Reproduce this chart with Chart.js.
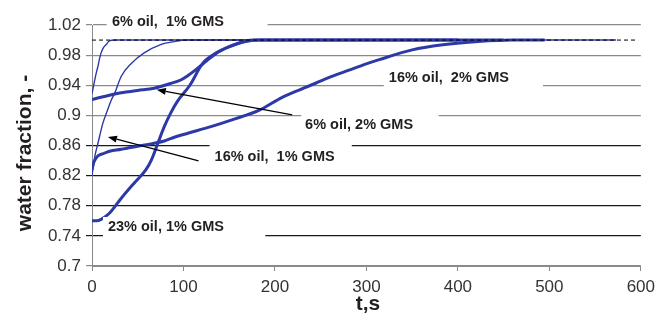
<!DOCTYPE html>
<html>
<head>
<meta charset="utf-8">
<script src="https://cdn.jsdelivr.net/npm/chart.js@4.4.1/dist/chart.umd.min.js"></script>
<style>
  html, body { margin: 0; padding: 0; background: #fff; }
  #wrap { width: 661px; height: 320px; }
</style>
</head>
<body>
<div id="wrap"><canvas id="chart"></canvas></div>
<script>
// Axis ticks
const xTicks = [0, 100, 200, 300, 400, 500, 600];
const yTicks = [0.7, 0.74, 0.78, 0.82, 0.86, 0.9, 0.94, 0.98, 1.02];
const yTickLabels = ['0.7', '0.74', '0.78', '0.82', '0.86', '0.9', '0.94', '0.98', '1.02'];

// 6% oil, 1% GMS (thin)
const oil6Gms1T = [0, 1.5, 3, 5, 6.5, 8, 10, 12.5, 15.5, 19, 25, 60, 200, 400, 573];
const oil6Gms1W = [0.929, 0.938, 0.947, 0.958, 0.965, 0.974, 0.983, 0.990, 0.994, 0.999, 1.0, 1.0, 1.0, 1.0, 1.0];

// 16% oil, 1% GMS (thin)
const oil16Gms1T = [0, 3, 6.5, 12, 17, 21, 25, 32, 43, 57, 75, 90, 104, 200, 350];
const oil16Gms1W = [0.82, 0.845, 0.863, 0.89, 0.907, 0.92, 0.93, 0.952, 0.969, 0.983, 0.994, 0.998, 1.0, 1.0, 1.0];

// 6% oil, 2% GMS (thick)
const oil6Gms2T = [0, 10, 32, 50, 68, 85, 97, 105, 114, 125, 139, 158, 176, 250, 400];
const oil6Gms2W = [0.921, 0.924, 0.930, 0.933, 0.936, 0.942, 0.947, 0.953, 0.961, 0.972, 0.985, 0.995, 1.0, 1.0, 1.0];

// 16% oil, 2% GMS (thick)
const oil16Gms2T = [0, 2, 14, 32, 50, 68, 79, 90, 104, 130, 153, 183, 208, 227, 245, 263, 281, 299, 314, 350, 386, 422, 459, 495];
const oil16Gms2W = [0.828, 0.838, 0.850, 0.855, 0.859, 0.863, 0.866, 0.871, 0.876, 0.885, 0.894, 0.907, 0.924, 0.934, 0.943, 0.952, 0.960, 0.968, 0.974, 0.987, 0.994, 0.998, 1.0, 1.0];

// 23% oil, 1% GMS (thick)
const oil23Gms1T = [0, 5, 10, 19, 32, 46, 59, 65, 72, 79, 86, 93, 107, 121, 136, 150, 168, 183, 300, 450];
const oil23Gms1W = [0.760, 0.760, 0.762, 0.770, 0.790, 0.810, 0.828, 0.841, 0.863, 0.885, 0.903, 0.918, 0.940, 0.969, 0.983, 0.991, 0.998, 1.0, 1.0, 1.0];

// equilibrium level
const refT = [0, 594];
const refW = [1.0, 1.0];

// text labels (data coords) with the white boxes behind them
const notes = [
    { text: '6% oil,  1% GMS', t: 21.8, w: 1.0243, box: [16, 192, 1.036, 1.0123] },
    { text: '16% oil,  2% GMS', t: 324.5, w: 0.950, box: [319, 493, 0.963, 0.934] },
    { text: '6% oil, 2% GMS', t: 233, w: 0.8874, box: [228.7, 379, 0.9033, 0.8728] },
    { text: '16% oil,  1% GMS', t: 134, w: 0.8449, box: [128.5, 284, 0.8621, 0.8302] },
    { text: '23% oil, 1% GMS', t: 17.4, w: 0.7518, box: [12, 189.5, 0.7651, 0.7372] }
];
const arrows = [
    { from: [218.9, 0.9007], to: [70.8, 0.934] },
    { from: [116.5, 0.8396], to: [17.4, 0.8714] }
];

const blue = '#2c39a6';
const pts = (ts, ws) => ts.map((t, i) => ({ x: t, y: ws[i] }));

const notesPlugin = {
    id: 'notes',
    afterDatasetsDraw(chart) {
        const ctx = chart.ctx;
        const xs = chart.scales.x, ys = chart.scales.y;
        ctx.save();
        // white boxes
        ctx.fillStyle = '#fff';
        notes.forEach(n => {
            const x0 = xs.getPixelForValue(n.box[0]);
            const x1 = xs.getPixelForValue(n.box[1]);
            const y0 = ys.getPixelForValue(n.box[2]);
            const y1 = ys.getPixelForValue(n.box[3]);
            ctx.fillRect(x0, y0, x1 - x0, y1 - y0);
        });
        // arrows
        ctx.strokeStyle = '#000';
        ctx.fillStyle = '#000';
        ctx.lineWidth = 1.3;
        arrows.forEach(a => {
            const x0 = xs.getPixelForValue(a.from[0]), y0 = ys.getPixelForValue(a.from[1]);
            const x1 = xs.getPixelForValue(a.to[0]), y1 = ys.getPixelForValue(a.to[1]);
            const ang = Math.atan2(y1 - y0, x1 - x0);
            const len = 9, half = 3.5;
            const bx = x1 - len * Math.cos(ang), by = y1 - len * Math.sin(ang);
            ctx.beginPath();
            ctx.moveTo(x0, y0);
            ctx.lineTo(bx, by);
            ctx.stroke();
            ctx.beginPath();
            ctx.moveTo(x1, y1);
            ctx.lineTo(bx + half * Math.sin(ang), by - half * Math.cos(ang));
            ctx.lineTo(bx - half * Math.sin(ang), by + half * Math.cos(ang));
            ctx.closePath();
            ctx.fill();
        });
        // label text
        ctx.fillStyle = '#231f20';
        ctx.font = 'bold 14.5px "Liberation Sans", Arial, sans-serif';
        ctx.textAlign = 'left';
        ctx.textBaseline = 'middle';
        notes.forEach(n => {
            ctx.fillText(n.text, xs.getPixelForValue(n.t), ys.getPixelForValue(n.w));
        });
        ctx.restore();
    },
    afterDraw(chart) {
        const ctx = chart.ctx;
        ctx.save();
        ctx.fillStyle = '#231f20';
        ctx.textAlign = 'center';
        ctx.textBaseline = 'middle';
        ctx.font = 'bold 21px "Liberation Sans", Arial, sans-serif';
        ctx.translate(25, 153);
        ctx.rotate(-Math.PI / 2);
        ctx.fillText('water fraction, -', 0, 0);
        ctx.restore();
        ctx.save();
        ctx.fillStyle = '#231f20';
        ctx.textAlign = 'center';
        ctx.textBaseline = 'middle';
        ctx.font = 'bold 21px "Liberation Sans", Arial, sans-serif';
        ctx.fillText('t,s', 368, 304);
        ctx.restore();
    }
};

const gridColor = ctx => {
    const v = ctx.tick ? ctx.tick.value : 0;
    return (v > 0.71 && v < 0.88) ? '#1a1a1a' : '#8a8a8a';
};

new Chart(document.getElementById('chart').getContext('2d'), {
    type: 'line',
    data: {
        datasets: [
            { data: pts(refT, refW), borderColor: '#000', borderWidth: 1, borderDash: [4, 3] },
            { data: pts(oil6Gms1T, oil6Gms1W), borderColor: blue, borderWidth: 1.4 },
            { data: pts(oil16Gms1T, oil16Gms1W), borderColor: blue, borderWidth: 1.4 },
            { data: pts(oil6Gms2T, oil6Gms2W), borderColor: blue, borderWidth: 3 },
            { data: pts(oil16Gms2T, oil16Gms2W), borderColor: blue, borderWidth: 3 },
            { data: pts(oil23Gms1T, oil23Gms1W), borderColor: blue, borderWidth: 3 }
        ]
    },
    options: {
        responsive: true,
        maintainAspectRatio: false,
        animation: false,
        layout: { padding: { left: 0, right: 18, top: 25, bottom: 0 } },
        elements: {
            point: { radius: 0 },
            line: { cubicInterpolationMode: 'monotone', fill: false }
        },
        plugins: {
            legend: { display: false },
            tooltip: { enabled: false }
        },
        scales: {
            x: {
                type: 'linear',
                min: 0,
                max: 600,
                afterBuildTicks: scale => { scale.ticks = xTicks.map(v => ({ value: v })); },
                afterFit: scale => { scale.height = 54; },
                grid: { drawOnChartArea: false, drawTicks: true, tickLength: 5, color: '#8a8a8a' },
                border: { color: '#8a8a8a', width: 1 },
                ticks: {
                    padding: 6,
                    color: '#333',
                    font: { family: '"Liberation Sans", Arial, sans-serif', size: 17 },
                    callback: v => String(v)
                }
            },
            y: {
                min: 0.7,
                max: 1.02,
                afterBuildTicks: scale => { scale.ticks = yTicks.map(v => ({ value: v })); },
                afterFit: scale => { scale.width = 92; },
                grid: { drawTicks: true, tickLength: 6, color: gridColor, lineWidth: 1.2 },
                border: { color: '#8a8a8a', width: 1 },
                ticks: {
                    padding: 5,
                    color: '#333',
                    font: { family: '"Liberation Sans", Arial, sans-serif', size: 17 },
                    callback: (v, i) => yTickLabels[i]
                }
            }
        }
    },
    plugins: [notesPlugin]
});
</script>
</body>
</html>
